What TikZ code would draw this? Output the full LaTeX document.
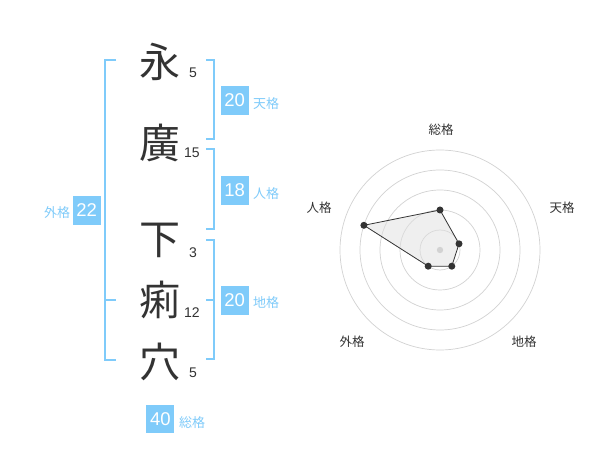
\documentclass[tikz,border=0pt]{standalone}
\usepackage{fontspec}
\setmainfont{Liberation Sans}
\newfontfamily\cjk{Noto Sans CJK JP}
\definecolor{bl}{RGB}{127,203,250}
\definecolor{ink}{RGB}{51,51,51}
\definecolor{ring}{RGB}{210,210,210}
\tikzset{
  kan/.style={inner sep=0pt, text=ink, font=\cjk\fontsize{41}{41}\selectfont},
  num/.style={inner sep=0pt, text=ink, font=\fontsize{14}{14}\selectfont},
  br/.style={draw=bl, line width=1.8pt},
  gbox/.style={fill=bl, text=white, inner sep=0pt, minimum width=28pt, minimum height=28.5pt, font=\fontsize{18.5}{18.5}\selectfont},
  glab/.style={inner sep=0pt, text=bl, font=\cjk\fontsize{13}{13}\selectfont},
  rlab/.style={inner sep=0pt, text=ink, font=\cjk\fontsize{12.5}{12.5}\selectfont},
  rdot/.style={circle, fill=ink, inner sep=0pt, minimum size=7pt},
}
\begin{document}
\begin{tikzpicture}[x=1pt,y=-1pt]
\useasboundingbox[fill=white] (0,0) rectangle (600,470);
% name characters
\node[kan] (c1) at (160,62) {永};
\node[kan] (c2) at (160,143) {廣};
\node[kan] (c3) at (160,240) {下};
\node[kan] (c4) at (160,300) {痢};
\node[kan] (c5) at (160,362) {穴};
% stroke counts
\node[num] (n1) at (193,73) {5};
\node[num] (n2) at (192,153) {15};
\node[num] (n3) at (193,253) {3};
\node[num] (n4) at (192,313) {12};
\node[num] (n5) at (193,373) {5};
% brackets
\draw[br] (116,60) -| (105,360) -- (116,360);
\draw[br] (105,300) -- (116,300);
\draw[br] (206,60) -| (214,139) -- (206,139);
\draw[br] (206,149) -| (214,229) -- (206,229);
\draw[br] (206,240) -| (214,359) -- (206,359);
\draw[br] (206,300) -- (214,300);
% grade boxes
\node[gbox] (g1) at (234.7,100.3) {20};
\node[glab] (l1) at (266,104) {天格};
\node[gbox] (g2) at (234.7,190.3) {18};
\node[glab] (l2) at (266,194) {人格};
\node[gbox] (g3) at (234.7,300.3) {20};
\node[glab] (l3) at (266,303) {地格};
\node[gbox] (g4) at (86.7,210.5) {22};
\node[glab] (l4) at (57,213) {外格};
\node[gbox] (g5) at (160.3,419) {40};
\node[glab] (l5) at (192,423) {総格};
% radar chart
\foreach \r in {20,40,60,80,100} \draw[ring, line width=0.7pt] (440,250) circle (\r);
\coordinate (p1) at (440,210);
\coordinate (p2) at (459.0,243.8);
\coordinate (p3) at (451.8,266.2);
\coordinate (p4) at (428.2,266.2);
\coordinate (p5) at (363.9,225.3);
\fill[black!12, fill opacity=0.5] (p1) -- (p2) -- (p3) -- (p4) -- (p5) -- cycle;
\draw[ink, line width=0.8pt] (p1) -- (p2) -- (p3) -- (p4) -- (p5) -- cycle;
\fill[ring] (440,250) circle (3.2);
\foreach \p in {p1,p2,p3,p4,p5} \node[rdot] at (\p) {};
\node[rlab] (r1) at (441,130) {総格};
\node[rlab] (r2) at (562,208) {天格};
\node[rlab] (r3) at (524,342) {地格};
\node[rlab] (r4) at (352,342) {外格};
\node[rlab] (r5) at (319,208) {人格};
\end{tikzpicture}
\end{document}
